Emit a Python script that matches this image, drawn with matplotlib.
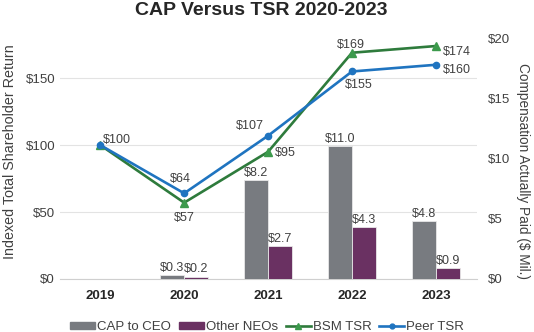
import matplotlib.pyplot as plt
from matplotlib.lines import Line2D
from matplotlib.patches import Patch
import numpy as np

plt.rcParams['font.family'] = ['Liberation Sans', 'DejaVu Sans']

years = ['2019', '2020', '2021', '2022', '2023']
cap_ceo = [None, 0.3, 8.2, 11.0, 4.8]
cap_neo = [None, 0.2, 2.7, 4.3, 0.9]
bsm_tsr = [100, 57, 95, 169, 174]
peer_tsr = [100, 64, 107, 155, 160]

# label placement per point: (dx, dy in points, ha)
peer_lbl = [(2, 4, 'left'), (-3, 6, 'center'), (-13, 3, 'center'), (5, -14, 'center'), (5, -4, 'left')]
bsm_lbl = [None, (0, -15, 'center'), (5, -1, 'left'), (-1, 1, 'center'), (5, -4, 'left')]

c_ceo = '#787b80'
c_neo = '#6a3162'
c_bsm = '#2e7b3c'
c_bsm_m = '#3c9a4c'
c_peer = '#1f74c0'
c_txt = '#404040'

fig = plt.figure(figsize=(5.34, 3.32), dpi=100)
rect = [60 / 534, 53 / 332, 417 / 534, 241 / 332]
ax = fig.add_axes(rect)
x = np.arange(len(years))

# left axis: gridlines and TSR ticks
ax.set_ylim(0, 180)
ax.set_yticks([0, 50, 100, 150])
ax.set_yticklabels(['$0', '$50', '$100', '$150'])
ax.yaxis.grid(True, color='#e3e3e3', lw=0.8)
ax.set_axisbelow(True)
ax.set_xlim(-0.48, 4.49)
ax.set_xticks(x)
ax.set_xticklabels(years, fontweight='bold', fontsize=9.5, color='#262626')
for s in ['top', 'left', 'right']:
    ax.spines[s].set_visible(False)
ax.spines['bottom'].set_color('#cfcfcf')
ax.tick_params(axis='both', length=0, labelcolor=c_txt, labelsize=9.5)
ax.tick_params(axis='x', pad=8, labelcolor='#262626')
ax.set_ylabel('Indexed Total Shareholder Return', fontsize=10.3, color=c_txt)
ax.yaxis.set_label_coords(-0.103, 0.53)

# right axis: compensation bars
ax2 = ax.twinx()
ax2.set_ylim(0, 20)
ax2.set_yticks([0, 5, 10, 15, 20])
ax2.set_yticklabels(['$0', '$5', '$10', '$15', '$20'])
for s in ax2.spines.values():
    s.set_visible(False)
ax2.tick_params(axis='y', length=0, labelcolor=c_txt, labelsize=9.5, pad=8)
ax2.set_ylabel('Compensation Actually Paid ($ Mil.)', fontsize=9.8, color=c_txt,
               rotation=270, va='center')
ax2.yaxis.set_label_coords(1.11, 0.45)

w = 0.285
for i, (a, b) in enumerate(zip(cap_ceo, cap_neo)):
    if a is None:
        continue
    ax2.bar(i - w / 2, a, w, color=c_ceo, edgecolor='#e8e8e8', lw=0.6)
    ax2.bar(i + w / 2, b, w, color=c_neo, edgecolor='#e8e8e8', lw=0.6)
    ax2.annotate(f'${a:.1f}', (i - w / 2, a), xytext=(0, 1), textcoords='offset points',
                 ha='center', va='bottom', fontsize=9, color=c_txt)
    ax2.annotate(f'${b:.1f}', (i + w / 2, b), xytext=(0, 1), textcoords='offset points',
                 ha='center', va='bottom', fontsize=9, color=c_txt)

# TSR lines on top
ax3 = ax.twinx()
ax3.set_ylim(0, 180)
ax3.set_yticks([])
for s in ax3.spines.values():
    s.set_visible(False)
ax3.plot(x, bsm_tsr, color=c_bsm, lw=1.9, marker='^', ms=5.5,
         mfc=c_bsm_m, mec=c_bsm_m, zorder=3)
ax3.plot(x, peer_tsr, color=c_peer, lw=1.9, marker='o', ms=4.5, zorder=4)

for i, v in enumerate(peer_tsr):
    dx, dy, ha = peer_lbl[i]
    ax3.annotate(f'${v}', (i, v), xytext=(dx, dy), textcoords='offset points',
                 ha=ha, va='center' if ha == 'left' else 'bottom', fontsize=9, color=c_txt)
for i, v in enumerate(bsm_tsr):
    if bsm_lbl[i] is None:
        continue
    dx, dy, ha = bsm_lbl[i]
    ax3.annotate(f'${v}', (i, v), xytext=(dx, dy), textcoords='offset points',
                 ha=ha, va='center' if ha == 'left' else 'bottom', fontsize=9, color=c_txt)

fig.suptitle('CAP Versus TSR 2020-2023', x=0.49, y=0.995, fontsize=14,
             fontweight='bold', color='#262626')

handles = [
    Patch(color=c_ceo, label='CAP to CEO'),
    Patch(color=c_neo, label='Other NEOs'),
    Line2D([], [], color=c_bsm, lw=1.9, marker='^', ms=4, mfc=c_bsm_m, mec=c_bsm_m, label='BSM TSR'),
    Line2D([], [], color=c_peer, lw=1.9, marker='o', ms=3.5, label='Peer TSR'),
]
fig.legend(handles=handles, loc='lower center', bbox_to_anchor=(0.5, -0.04), ncol=4,
           frameon=False, fontsize=9.5, handlelength=1.9, handleheight=0.45,
           handletextpad=0.15, columnspacing=0.6, labelcolor=c_txt)

fig.savefig('out.png', dpi=100)
